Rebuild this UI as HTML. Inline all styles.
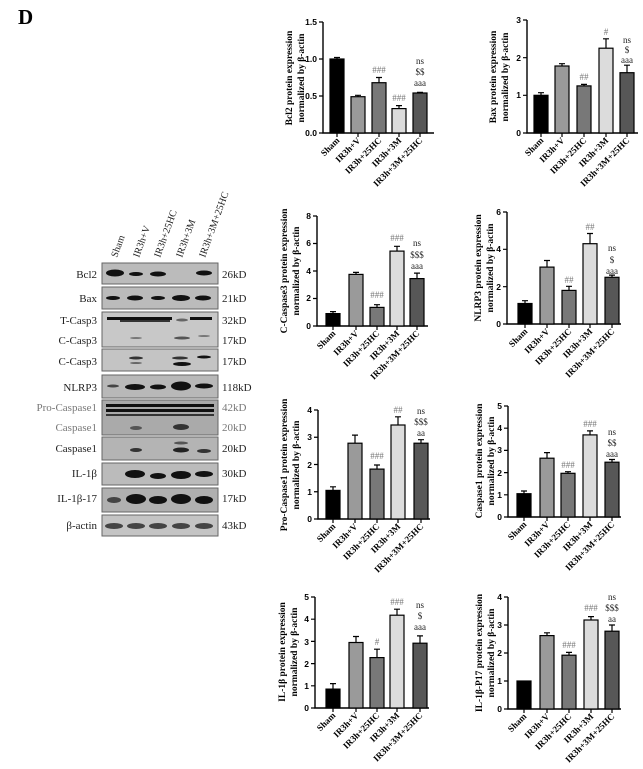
<!DOCTYPE html>
<html><head><meta charset="utf-8"><style>
html,body{margin:0;padding:0;background:#fff;}
svg{display:block;font-family:"Liberation Serif",serif;}
.t{font-weight:bold;font-size:9.5px;}
.k{font-family:"Liberation Sans",sans-serif;font-weight:bold;font-size:8.5px;}
.x{font-weight:bold;font-size:9px;}
.g{fill:#777;font-size:9px;}
.a{fill:#222;font-size:9px;}
.bl{font-size:11px;fill:#222;}
.bar{stroke:#000;stroke-width:1.2;}
.ax{stroke:#000;stroke-width:1.4;fill:none;}
.e{stroke:#000;stroke-width:1.2;}
</style></head><body>
<svg width="643" height="769" viewBox="0 0 643 769" xmlns="http://www.w3.org/2000/svg">
<text x="18" y="24" font-size="21" font-weight="bold">D</text>

<g font-size="10" fill="#222">
<text transform="translate(117,258) rotate(-70)">Sham</text>
<text transform="translate(139,258) rotate(-70)">IR3h+V</text>
<text transform="translate(160,258) rotate(-70)">IR3h+25HC</text>
<text transform="translate(182,258) rotate(-70)">IR3h+3M</text>
<text transform="translate(205,258) rotate(-70)">IR3h+3M+25HC</text>
</g>
<g fill="#bbb" stroke="#666" stroke-width="1">
<rect x="102" y="263" width="116" height="21"/>
<rect x="102" y="287" width="116" height="22"/>
<rect x="102" y="312" width="116" height="35" fill="#c8c8c8"/>
<rect x="102" y="349" width="116" height="22" fill="#c4c4c4"/>
<rect x="102" y="375" width="116" height="23" fill="#b8b8b8"/>
<rect x="102" y="400" width="116" height="35" fill="#aaa"/>
<rect x="102" y="437" width="116" height="23" fill="#b4b4b4"/>
<rect x="102" y="463" width="116" height="22" fill="#bbb"/>
<rect x="102" y="488" width="116" height="24" fill="#b0b0b0"/>
<rect x="102" y="515" width="116" height="21" fill="#c4c4c4"/>
</g>
<g fill="#111">
<ellipse cx="115" cy="273" rx="9" ry="3.5"/><ellipse cx="136" cy="274" rx="7" ry="2"/><ellipse cx="158" cy="274" rx="8" ry="2.5"/><ellipse cx="204" cy="273" rx="8" ry="2.5"/>
<ellipse cx="113" cy="298" rx="7" ry="2"/><ellipse cx="135" cy="298" rx="8" ry="2.5"/><ellipse cx="158" cy="298" rx="7" ry="2"/><ellipse cx="181" cy="298" rx="9" ry="3"/><ellipse cx="203" cy="298" rx="8" ry="2.5"/>
<rect x="107" y="317" width="65" height="3"/><rect x="120" y="320" width="50" height="2" fill="#333"/><rect x="190" y="317" width="22" height="3"/>
<ellipse cx="182" cy="320" rx="6" ry="1.5" fill="#666"/>
<ellipse cx="136" cy="338" rx="6" ry="1" fill="#777"/><ellipse cx="182" cy="338" rx="8" ry="1.5" fill="#555"/><ellipse cx="204" cy="336" rx="6" ry="1" fill="#777"/>
<ellipse cx="136" cy="358" rx="7" ry="1.5" fill="#333"/><ellipse cx="180" cy="358" rx="8" ry="1.5" fill="#333"/><ellipse cx="182" cy="364" rx="9" ry="2"/><ellipse cx="204" cy="357" rx="7" ry="1.5"/><ellipse cx="136" cy="363" rx="6" ry="1" fill="#666"/>
<ellipse cx="113" cy="386" rx="6" ry="1.5" fill="#444"/><ellipse cx="135" cy="387" rx="10" ry="3"/><ellipse cx="158" cy="387" rx="8" ry="2.5"/><ellipse cx="181" cy="386" rx="10" ry="4.5"/><ellipse cx="204" cy="386" rx="9" ry="2.5"/>
<rect x="106" y="404" width="108" height="3"/><rect x="106" y="409" width="108" height="3"/><rect x="106" y="414" width="108" height="2" fill="#333"/>
<ellipse cx="136" cy="428" rx="6" ry="2" fill="#555"/><ellipse cx="181" cy="427" rx="8" ry="3" fill="#333"/>
<ellipse cx="136" cy="450" rx="6" ry="2" fill="#333"/><ellipse cx="181" cy="450" rx="8" ry="2.5" fill="#222"/><ellipse cx="204" cy="451" rx="7" ry="2" fill="#333"/><ellipse cx="181" cy="443" rx="7" ry="1.5" fill="#555"/>
<ellipse cx="135" cy="474" rx="10" ry="4"/><ellipse cx="158" cy="476" rx="8" ry="3"/><ellipse cx="181" cy="475" rx="10" ry="4"/><ellipse cx="204" cy="474" rx="9" ry="3"/>
<ellipse cx="114" cy="500" rx="7" ry="3" fill="#444"/><ellipse cx="136" cy="499" rx="10" ry="5"/><ellipse cx="158" cy="500" rx="9" ry="4"/><ellipse cx="181" cy="499" rx="10" ry="5"/><ellipse cx="204" cy="500" rx="9" ry="4"/>
<ellipse cx="114" cy="526" rx="9" ry="3" fill="#444"/><ellipse cx="136" cy="526" rx="9" ry="3" fill="#444"/><ellipse cx="158" cy="526" rx="9" ry="3" fill="#444"/><ellipse cx="181" cy="526" rx="9" ry="3" fill="#444"/><ellipse cx="204" cy="526" rx="9" ry="3" fill="#444"/>
</g>
<g class="bl" text-anchor="end">
<text x="97" y="278">Bcl2</text><text x="97" y="302">Bax</text><text x="97" y="324">T-Casp3</text>
<text x="97" y="344">C-Casp3</text><text x="97" y="365">C-Casp3</text><text x="97" y="391">NLRP3</text>
<text x="97" y="411" fill="#777">Pro-Caspase1</text><text x="97" y="431" fill="#777">Caspase1</text>
<text x="97" y="452">Caspase1</text><text x="97" y="477">IL-1β</text><text x="97" y="502">IL-1β-17</text><text x="97" y="529">β-actin</text>
</g>
<g class="bl">
<text x="222" y="278">26kD</text><text x="222" y="302">21kD</text><text x="222" y="324">32kD</text>
<text x="222" y="344">17kD</text><text x="222" y="365">17kD</text><text x="222" y="391">118kD</text>
<text x="222" y="411" fill="#777">42kD</text><text x="222" y="431" fill="#777">20kD</text>
<text x="222" y="452">20kD</text><text x="222" y="477">30kD</text><text x="222" y="502">17kD</text><text x="222" y="529">43kD</text>
</g>

<g>
<path class="ax" d="M323,22V133H434"/>
<g class="e"><path d="M319,22h4M319,59h4M319,96h4M319,133h4M337,133v4M358,133v4M379,133v4M399,133v4M420,133v4"/></g>
<g class="k" text-anchor="end"><text x="317" y="25">1.5</text><text x="317" y="62">1.0</text><text x="317" y="99">0.5</text><text x="317" y="136">0.0</text></g>
<rect class="bar" x="330" y="59" width="14" height="74" fill="#000"/>
<rect class="bar" x="351" y="96.7" width="14" height="36.3" fill="#9a9a9a"/>
<rect class="bar" x="372" y="82.7" width="14" height="50.3" fill="#787878"/>
<rect class="bar" x="392" y="108.6" width="14" height="24.4" fill="#dcdcdc"/>
<rect class="bar" x="413" y="93" width="14" height="40" fill="#575757"/>
<path class="e" d="M337,59V57.5M334,57.5h6M358,96.7V95.3M355,95.3h6M379,82.7V77.5M376,77.5h6M399,108.6V105.6M396,105.6h6M420,93V92.3M417,92.3h6"/>
<text class="g" x="379" y="73" text-anchor="middle">###</text>
<text class="g" x="399" y="101" text-anchor="middle">###</text>
<g class="a" text-anchor="middle"><text x="420" y="64">ns</text><text x="420" y="75">$$</text><text x="420" y="86">aaa</text></g>
<text class="t" transform="translate(292,78) rotate(-90)" text-anchor="middle">Bcl2 protein expression</text>
<text class="t" transform="translate(304,78) rotate(-90)" text-anchor="middle">normalized by β-actin</text>
<g class="x" text-anchor="end">
<text transform="translate(340,141) rotate(-45)">Sham</text><text transform="translate(361,141) rotate(-45)">IR3h+V</text>
<text transform="translate(382,141) rotate(-45)">IR3h+25HC</text><text transform="translate(402,141) rotate(-45)">IR3h+3M</text>
<text transform="translate(423,141) rotate(-45)">IR3h+3M+25HC</text></g>
</g>

<g>
<path class="ax" d="M527,20V133H638"/>
<path class="e" d="M523,20h4M523,57.7h4M523,95.3h4M523,133h4M541,133v4M562,133v4M584,133v4M606,133v4M627,133v4"/>
<g class="k" text-anchor="end"><text x="521" y="23">3</text><text x="521" y="61">2</text><text x="521" y="98">1</text><text x="521" y="136">0</text></g>
<rect class="bar" x="534" y="95.3" width="14" height="37.7" fill="#000"/>
<rect class="bar" x="555" y="66" width="14" height="67" fill="#9a9a9a"/>
<rect class="bar" x="577" y="85.9" width="14" height="47.1" fill="#787878"/>
<rect class="bar" x="599" y="48.2" width="14" height="84.8" fill="#dcdcdc"/>
<rect class="bar" x="620" y="72.7" width="14" height="60.3" fill="#575757"/>
<path class="e" d="M541,95.3V92.7M538,92.7h6M562,66V63.7M559,63.7h6M584,85.9V84.4M581,84.4h6M606,48.2V38.8M603,38.8h6M627,72.7V65.2M624,65.2h6"/>
<text class="g" x="584" y="80" text-anchor="middle">##</text>
<text class="g" x="606" y="35" text-anchor="middle">#</text>
<g class="a" text-anchor="middle"><text x="627" y="43">ns</text><text x="627" y="53">$</text><text x="627" y="63">aaa</text></g>
<text class="t" transform="translate(496,77) rotate(-90)" text-anchor="middle">Bax protein expression</text>
<text class="t" transform="translate(508,77) rotate(-90)" text-anchor="middle">normalized by β-actin</text>
<g class="x" text-anchor="end">
<text transform="translate(544,141) rotate(-45)">Sham</text><text transform="translate(565,141) rotate(-45)">IR3h+V</text>
<text transform="translate(587,141) rotate(-45)">IR3h+25HC</text><text transform="translate(609,141) rotate(-45)">IR3h+3M</text>
<text transform="translate(630,141) rotate(-45)">IR3h+3M+25HC</text></g>
</g>

<g>
<path class="ax" d="M317,216V326H428"/>
<path class="e" d="M313,216h4M313,243.5h4M313,271h4M313,298.5h4M313,326h4M333,326v4M356,326v4M377,326v4M397,326v4M417,326v4"/>
<g class="k" text-anchor="end"><text x="311" y="219">8</text><text x="311" y="246">6</text><text x="311" y="274">4</text><text x="311" y="301">2</text><text x="311" y="329">0</text></g>
<rect class="bar" x="326" y="313.6" width="14" height="12.4" fill="#000"/>
<rect class="bar" x="349" y="274.4" width="14" height="51.6" fill="#9a9a9a"/>
<rect class="bar" x="370" y="307.4" width="14" height="18.6" fill="#787878"/>
<rect class="bar" x="390" y="251.1" width="14" height="74.9" fill="#dcdcdc"/>
<rect class="bar" x="410" y="278.6" width="14" height="47.4" fill="#575757"/>
<path class="e" d="M333,313.6V311.6M330,311.6h6M356,274.4V272.4M353,272.4h6M377,307.4V304.7M374,304.7h6M397,251.1V246.3M394,246.3h6M417,278.6V273.1M414,273.1h6"/>
<text class="g" x="377" y="298" text-anchor="middle">###</text>
<text class="g" x="397" y="241" text-anchor="middle">###</text>
<g class="a" text-anchor="middle"><text x="417" y="246">ns</text><text x="417" y="258">$$$</text><text x="417" y="269">aaa</text></g>
<text class="t" transform="translate(287,271) rotate(-90)" text-anchor="middle">C-Caspase3 protein expression</text>
<text class="t" transform="translate(299,271) rotate(-90)" text-anchor="middle">normalized by β-actin</text>
<g class="x" text-anchor="end">
<text transform="translate(336,334) rotate(-45)">Sham</text><text transform="translate(359,334) rotate(-45)">IR3h+V</text>
<text transform="translate(380,334) rotate(-45)">IR3h+25HC</text><text transform="translate(400,334) rotate(-45)">IR3h+3M</text>
<text transform="translate(420,334) rotate(-45)">IR3h+3M+25HC</text></g>
</g>

<g>
<path class="ax" d="M507,212V324H621"/>
<path class="e" d="M503,212h4M503,249.3h4M503,286.7h4M503,324h4M525,324v4M547,324v4M569,324v4M590,324v4M612,324v4"/>
<g class="k" text-anchor="end"><text x="501" y="215">6</text><text x="501" y="252">4</text><text x="501" y="290">2</text><text x="501" y="327">0</text></g>
<rect class="bar" x="518" y="303.5" width="14" height="20.5" fill="#000"/>
<rect class="bar" x="540" y="267.1" width="14" height="56.9" fill="#9a9a9a"/>
<rect class="bar" x="562" y="290.4" width="14" height="33.6" fill="#787878"/>
<rect class="bar" x="583" y="243.7" width="14" height="80.3" fill="#dcdcdc"/>
<rect class="bar" x="605" y="277.3" width="14" height="46.7" fill="#575757"/>
<path class="e" d="M525,303.5V300.7M522,300.7h6M547,267.1V260.5M544,260.5h6M569,290.4V286.3M566,286.3h6M590,243.7V233.5M587,233.5h6M612,277.3V275.1M609,275.1h6"/>
<text class="g" x="569" y="283" text-anchor="middle">##</text>
<text class="g" x="590" y="230" text-anchor="middle">##</text>
<g class="a" text-anchor="middle"><text x="612" y="251">ns</text><text x="612" y="263">$</text><text x="612" y="274">aaa</text></g>
<text class="t" transform="translate(481,268) rotate(-90)" text-anchor="middle">NLRP3 protein expression</text>
<text class="t" transform="translate(493,268) rotate(-90)" text-anchor="middle">normalized by β-actin</text>
<g class="x" text-anchor="end">
<text transform="translate(528,332) rotate(-45)">Sham</text><text transform="translate(550,332) rotate(-45)">IR3h+V</text>
<text transform="translate(572,332) rotate(-45)">IR3h+25HC</text><text transform="translate(593,332) rotate(-45)">IR3h+3M</text>
<text transform="translate(615,332) rotate(-45)">IR3h+3M+25HC</text></g>
</g>

<g>
<path class="ax" d="M318,410V519H430"/>
<path class="e" d="M314,410h4M314,437.25h4M314,464.5h4M314,491.75h4M314,519h4M333,519v4M355,519v4M377,519v4M398,519v4M421,519v4"/>
<g class="k" text-anchor="end"><text x="312" y="413">4</text><text x="312" y="440">3</text><text x="312" y="468">2</text><text x="312" y="495">1</text><text x="312" y="522">0</text></g>
<rect class="bar" x="326" y="490.4" width="14" height="28.6" fill="#000"/>
<rect class="bar" x="348" y="443.2" width="14" height="75.8" fill="#9a9a9a"/>
<rect class="bar" x="370" y="469.1" width="14" height="49.9" fill="#787878"/>
<rect class="bar" x="391" y="425" width="14" height="94" fill="#dcdcdc"/>
<rect class="bar" x="414" y="443.2" width="14" height="75.8" fill="#575757"/>
<path class="e" d="M333,490.4V486.8M330,486.8h6M355,443.2V435.1M352,435.1h6M377,469.1V465M374,465h6M398,425V416.8M395,416.8h6M421,443.2V439.7M418,439.7h6"/>
<text class="g" x="377" y="459" text-anchor="middle">###</text>
<text class="g" x="398" y="413" text-anchor="middle">##</text>
<g class="a" text-anchor="middle"><text x="421" y="414">ns</text><text x="421" y="425">$$$</text><text x="421" y="436">aa</text></g>
<text class="t" transform="translate(287,465) rotate(-90)" text-anchor="middle">Pro-Caspase1 protein expression</text>
<text class="t" transform="translate(299,465) rotate(-90)" text-anchor="middle">normalized by β-actin</text>
<g class="x" text-anchor="end">
<text transform="translate(336,527) rotate(-45)">Sham</text><text transform="translate(358,527) rotate(-45)">IR3h+V</text>
<text transform="translate(380,527) rotate(-45)">IR3h+25HC</text><text transform="translate(401,527) rotate(-45)">IR3h+3M</text>
<text transform="translate(424,527) rotate(-45)">IR3h+3M+25HC</text></g>
</g>

<g>
<path class="ax" d="M508,406V517H621"/>
<path class="e" d="M504,406h4M504,428.2h4M504,450.4h4M504,472.6h4M504,494.8h4M504,517h4M524,517v4M547,517v4M568,517v4M590,517v4M612,517v4"/>
<g class="k" text-anchor="end"><text x="502" y="409">5</text><text x="502" y="431">4</text><text x="502" y="453">3</text><text x="502" y="476">2</text><text x="502" y="498">1</text><text x="502" y="520">0</text></g>
<rect class="bar" x="517" y="493.7" width="14" height="23.3" fill="#000"/>
<rect class="bar" x="540" y="458.2" width="14" height="58.8" fill="#9a9a9a"/>
<rect class="bar" x="561" y="473.3" width="14" height="43.7" fill="#787878"/>
<rect class="bar" x="583" y="434.9" width="14" height="82.1" fill="#dcdcdc"/>
<rect class="bar" x="605" y="462.2" width="14" height="54.8" fill="#575757"/>
<path class="e" d="M524,493.7V491M521,491h6M547,458.2V452.6M544,452.6h6M568,473.3V471.7M565,471.7h6M590,434.9V430.9M587,430.9h6M612,462.2V459.5M609,459.5h6"/>
<text class="g" x="568" y="468" text-anchor="middle">###</text>
<text class="g" x="590" y="427" text-anchor="middle">###</text>
<g class="a" text-anchor="middle"><text x="612" y="435">ns</text><text x="612" y="446">$$</text><text x="612" y="457">aaa</text></g>
<text class="t" transform="translate(482,461) rotate(-90)" text-anchor="middle">Caspase1 protein expression</text>
<text class="t" transform="translate(494,461) rotate(-90)" text-anchor="middle">normalized by β-actin</text>
<g class="x" text-anchor="end">
<text transform="translate(527,525) rotate(-45)">Sham</text><text transform="translate(550,525) rotate(-45)">IR3h+V</text>
<text transform="translate(571,525) rotate(-45)">IR3h+25HC</text><text transform="translate(593,525) rotate(-45)">IR3h+3M</text>
<text transform="translate(615,525) rotate(-45)">IR3h+3M+25HC</text></g>
</g>

<g>
<path class="ax" d="M315,597V708H429"/>
<path class="e" d="M311,597h4M311,619.2h4M311,641.4h4M311,663.6h4M311,685.8h4M311,708h4M333,708v4M356,708v4M377,708v4M397,708v4M420,708v4"/>
<g class="k" text-anchor="end"><text x="309" y="600">5</text><text x="309" y="622">4</text><text x="309" y="645">3</text><text x="309" y="667">2</text><text x="309" y="689">1</text><text x="309" y="711">0</text></g>
<rect class="bar" x="326" y="689.1" width="14" height="18.9" fill="#000"/>
<rect class="bar" x="349" y="642.5" width="14" height="65.5" fill="#9a9a9a"/>
<rect class="bar" x="370" y="657.6" width="14" height="50.4" fill="#787878"/>
<rect class="bar" x="390" y="615.2" width="14" height="92.8" fill="#dcdcdc"/>
<rect class="bar" x="413" y="643.2" width="14" height="64.8" fill="#575757"/>
<path class="e" d="M333,689.1V683.6M330,683.6h6M356,642.5V636.5M353,636.5h6M377,657.6V649.2M374,649.2h6M397,615.2V609.2M394,609.2h6M420,643.2V635.9M417,635.9h6"/>
<text class="g" x="377" y="645" text-anchor="middle">#</text>
<text class="g" x="397" y="605" text-anchor="middle">###</text>
<g class="a" text-anchor="middle"><text x="420" y="608">ns</text><text x="420" y="619">$</text><text x="420" y="630">aaa</text></g>
<text class="t" transform="translate(285,652) rotate(-90)" text-anchor="middle">IL-1β protein expression</text>
<text class="t" transform="translate(297,652) rotate(-90)" text-anchor="middle">normalized by β-actin</text>
<g class="x" text-anchor="end">
<text transform="translate(336,716) rotate(-45)">Sham</text><text transform="translate(359,716) rotate(-45)">IR3h+V</text>
<text transform="translate(380,716) rotate(-45)">IR3h+25HC</text><text transform="translate(400,716) rotate(-45)">IR3h+3M</text>
<text transform="translate(423,716) rotate(-45)">IR3h+3M+25HC</text></g>
</g>

<g>
<path class="ax" d="M508,597V709H621"/>
<path class="e" d="M504,597h4M504,625h4M504,653h4M504,681h4M504,709h4M524,709v4M547,709v4M569,709v4M591,709v4M612,709v4"/>
<g class="k" text-anchor="end"><text x="502" y="600">4</text><text x="502" y="628">3</text><text x="502" y="656">2</text><text x="502" y="684">1</text><text x="502" y="712">0</text></g>
<rect class="bar" x="517" y="681" width="14" height="28" fill="#000"/>
<rect class="bar" x="540" y="635.6" width="14" height="73.4" fill="#9a9a9a"/>
<rect class="bar" x="562" y="655.2" width="14" height="53.8" fill="#787878"/>
<rect class="bar" x="584" y="620" width="14" height="89" fill="#dcdcdc"/>
<rect class="bar" x="605" y="631.2" width="14" height="77.8" fill="#575757"/>
<path class="e" d="M547,635.6V632.8M544,632.8h6M569,655.2V652.4M566,652.4h6M591,620V616.6M588,616.6h6M612,631.2V625M609,625h6"/>
<text class="g" x="569" y="648" text-anchor="middle">###</text>
<text class="g" x="591" y="611" text-anchor="middle">###</text>
<g class="a" text-anchor="middle"><text x="612" y="600">ns</text><text x="612" y="611">$$$</text><text x="612" y="622">aa</text></g>
<text class="t" transform="translate(482,653) rotate(-90)" text-anchor="middle">IL-1β-P17 protein expression</text>
<text class="t" transform="translate(494,653) rotate(-90)" text-anchor="middle">normalized by β-actin</text>
<g class="x" text-anchor="end">
<text transform="translate(527,717) rotate(-45)">Sham</text><text transform="translate(550,717) rotate(-45)">IR3h+V</text>
<text transform="translate(572,717) rotate(-45)">IR3h+25HC</text><text transform="translate(594,717) rotate(-45)">IR3h+3M</text>
<text transform="translate(615,717) rotate(-45)">IR3h+3M+25HC</text></g>
</g>
</svg>
</body></html>
